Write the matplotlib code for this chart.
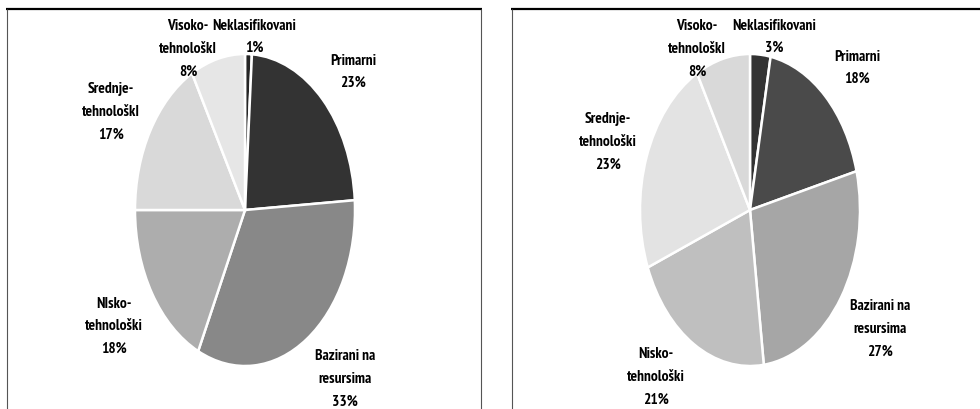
import matplotlib
matplotlib.use("Agg")
import matplotlib.pyplot as plt
from matplotlib.lines import Line2D
from matplotlib import font_manager, patheffects

W, H = 980, 409

# Slice order: clockwise from 12 o'clock
categories_left = ["Neklasifikovani", "Primarni", "Bazirani na resursima",
                   "NIsko-tehnološki", "Srednje-tehnološkI", "Visoko-tehnološkI"]
values_left = [1, 23, 33, 18, 17, 8]
colors_left = ["#262626", "#333333", "#888888", "#adadad", "#d9d9d9", "#e6e6e6"]

categories_right = ["Neklasifikovani", "Primarni", "Bazirani na resursima",
                    "Nisko-tehnološki", "Srednje-tehnološki", "Visoko-tehnološkI"]
values_right = [3, 18, 27, 21, 23, 8]
colors_right = ["#333333", "#4a4a4a", "#a6a6a6", "#bfbfbf", "#e3e3e3", "#d9d9d9"]

# label lines (the value line is appended)
labels_left = [["Neklasifikovani"], ["Primarni"], ["Bazirani na", "resursima"],
               ["NIsko-", "tehnološki"], ["Srednje-", "tehnološkI"], ["Visoko-", "tehnološkI"]]
labels_right = [["Neklasifikovani"], ["Primarni"], ["Bazirani na", "resursima"],
                ["Nisko-", "tehnološki"], ["Srednje-", "tehnološki"], ["Visoko-", "tehnološkI"]]

# label block centres in pixels (x, y from top)
label_pos_left = [(254, 36), (353, 71), (345, 378), (114, 325), (111, 111), (188, 48)]
label_pos_right = [(774, 36), (857, 67), (880, 328), (656, 376), (608, 141), (697, 48)]


# narrow bold face for labels
def as_weight(w):
    if isinstance(w, str):
        return font_manager.weight_dict.get(w, 400)
    return int(w)


bold_families = {f.name for f in font_manager.fontManager.ttflist if as_weight(f.weight) >= 600}
installed = {f.name for f in font_manager.fontManager.ttflist}
bold_narrow = ["PT Sans Narrow", "Fira Sans Condensed", "Asap Condensed",
               "Encode Sans Condensed", "Roboto Condensed", "IBM Plex Sans Condensed",
               "Barlow Semi Condensed", "Saira Semi Condensed", "Liberation Sans Narrow"]
chosen = [f for f in bold_narrow if f in bold_families]
if chosen:
    family = [chosen[0], "DejaVu Sans"]
    stroke = []
else:
    family = [f for f in ["Archivo Narrow"] if f in installed] + ["DejaVu Sans"]
    stroke = [patheffects.withStroke(linewidth=0.7, foreground="black")]
plt.rcParams["font.family"] = family

fig = plt.figure(figsize=(W / 100, H / 100), dpi=100)

# size the font so the longest word spans about 84 px
renderer = fig.canvas.get_renderer()
probe = fig.text(0, 0, "Neklasifikovani", fontsize=10, fontweight="bold")
probe_w = probe.get_window_extent(renderer).width
probe.remove()
fsize = min(11.5, 10 * 84 / probe_w)
LINE = 22.5


def px_box(cx, cy, rx, ry):
    return [(cx - rx) / W, 1 - (cy + ry) / H, 2 * rx / W, 2 * ry / H]


def draw_pie(center, values, colors, labels, positions):
    cx, cy = center
    ax = fig.add_axes(px_box(cx, cy, 110, 156))
    ax.pie(values, colors=colors, startangle=90, counterclock=False,
           wedgeprops=dict(edgecolor="white", linewidth=1.8))
    ax.set_aspect("auto")
    ax.set_xlim(-1, 1)
    ax.set_ylim(-1, 1)
    ax.axis("off")
    for lines, v, (x, yc) in zip(labels, values, positions):
        rows = lines + [f"{v}%"]
        n = len(rows)
        for i, row in enumerate(rows):
            y = yc + (i - (n - 1) / 2) * LINE + 5
            fig.text(x / W, 1 - y / H, row, ha="center", va="baseline",
                     fontsize=fsize, fontweight="bold", color="#000000",
                     path_effects=stroke)


draw_pie((245, 210), values_left, colors_left, labels_left, label_pos_left)
draw_pie((750, 210), values_right, colors_right, labels_right, label_pos_right)


# panel frames
def fline(x0, y0, x1, y1, lw, color):
    fig.add_artist(Line2D([x0 / W, x1 / W], [1 - y0 / H, 1 - y1 / H],
                          transform=fig.transFigure, lw=lw, color=color,
                          solid_capstyle="butt"))


fline(6, 9, 482, 9, 1.6, "#000000")
fline(7, 9, 7, 409, 0.8, "#555555")
fline(481, 9, 481, 409, 0.8, "#555555")
fline(511, 9, 980, 9, 1.6, "#000000")
fline(512, 9, 512, 409, 0.8, "#555555")

fig.savefig("out.png", dpi=100, facecolor="white")
